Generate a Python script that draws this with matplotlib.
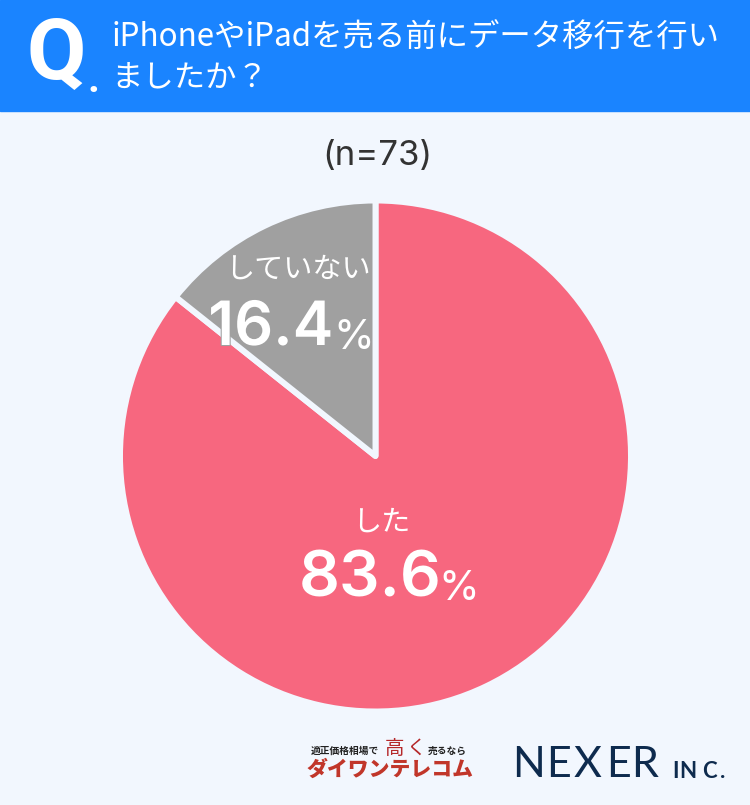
import matplotlib
matplotlib.use('Agg')
import matplotlib.pyplot as plt
import matplotlib.patheffects as pe
from matplotlib.patches import Rectangle

plt.rcParams['font.family'] = ['Noto Sans CJK JP', 'DejaVu Sans']

labels = ['した', 'していない']
# printed percentages
printed = ['83.6', '16.4']
# wedge sizes as drawn in the picture (they don't agree with the printed numbers)
drawn = [85.7, 14.3]
colors = ['#f7677f', '#a0a0a0']
question = ['iPhoneやiPadを売る前にデータ移行を行い', 'ましたか？']
sample = '(n=73)'

BG = '#f2f7fe'
BLUE = '#1a84ff'
NAVY = '#0e2b4e'
H = 805


def y(py):
    # pixel row from the top -> axes coordinate
    return H - py


fig = plt.figure(figsize=(7.5, 8.05), dpi=100, facecolor=BG)
ax = fig.add_axes([0, 0, 1, 1])

ax.pie(drawn, colors=colors, startangle=90, counterclock=False,
       center=(375.5, y(456)), radius=255.5, frame=True,
       wedgeprops=dict(edgecolor=BG, linewidth=4.3, joinstyle='round'))
ax.set_xlim(0, 750)
ax.set_ylim(0, H)
ax.set_aspect('equal')
ax.axis('off')

# header
ax.add_patch(Rectangle((0, y(110.5)), 750, 110.5, color=BLUE, zorder=3))
ax.text(56, y(55), 'Q', color='white', fontsize=62, fontweight='bold',
        family='Roboto', ha='center', va='center', zorder=4)
ax.text(93, y(80), '.', color='white', fontsize=30, fontweight='bold', family='Roboto',
        ha='center', va='center', zorder=4)
ax.text(111, y(38), question[0], color='white', fontsize=22.6, ha='left', va='center', zorder=4)
ax.text(111, y(78), question[1], color='white', fontsize=22.6, ha='left', va='center', zorder=4)

ax.text(377, y(156), sample, color='#333333', fontsize=25, family='Inter', ha='center', va='center')

# slice labels
ax.text(381, y(523), labels[0], color='white', fontsize=21, ha='center', va='center')
ax.text(370, y(580), printed[0], color='white', fontsize=46, family='Inter', fontweight='semibold',
        ha='center', va='center')
ax.text(459, y(589), '%', color='white', fontsize=30, family='Inter', ha='center', va='center')

ax.text(298, y(270), labels[1], color='white', fontsize=21, ha='center', va='center')
ax.text(271, y(329), printed[1], color='white', fontsize=44, family='Inter', fontweight='semibold',
        ha='center', va='center',
        path_effects=[pe.withStroke(linewidth=1.5, foreground='#a0a0a0')])
ax.text(354, y(338), '%', color='white', fontsize=30, family='Inter', ha='center', va='center')

# logos
ax.text(311, y(751), '適正価格相場で', color='#222222', fontsize=7, fontweight='bold', ha='left', va='center')
ax.text(394, y(748), '高', color='#b5282a', fontsize=14, ha='center', va='center')
ax.text(416, y(748), 'く', color='#b5282a', fontsize=14, ha='center', va='center')
ax.text(428, y(751), '売るなら', color='#222222', fontsize=7, fontweight='bold', ha='left', va='center')
ax.text(390, y(770), 'ダイワンテレコム', color='#c1362a', fontsize=15, fontweight='black',
        ha='center', va='center')

for ch, px in zip('NEXER', [528, 558, 587, 618, 645]):
    ax.text(px, y(765), ch, color=NAVY, fontsize=31, family='Lato', ha='center', va='center')
for ch, px in zip('INC.', [675, 688, 709, 723]):
    ax.text(px, y(772), ch, color=NAVY, fontsize=16, fontweight='bold', family='Lato', ha='center', va='center')

fig.savefig('out.png', dpi=100, facecolor=BG)
